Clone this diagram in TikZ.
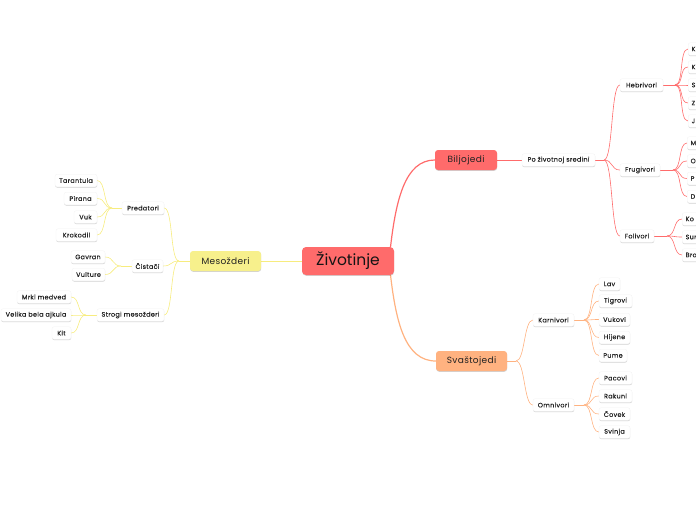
\documentclass[tikz,border=0pt]{standalone}
\usepackage{fontspec}
\setmainfont{Poppins}
\newfontfamily\leaffont[LetterSpace=5,FakeBold=0.3]{Poppins}
\newfontfamily\mainfont[LetterSpace=4]{Poppins}
\usetikzlibrary{shadows,backgrounds}
\definecolor{redc}{HTML}{FF6B6B}
\definecolor{yelc}{HTML}{F7F08C}
\definecolor{yell}{HTML}{F7EC7E}
\definecolor{orac}{HTML}{FFB280}
\definecolor{txt}{HTML}{222222}
\tikzset{
  x=1pt, y=1pt,
  shad/.style={drop shadow={shadow xshift=0.2pt, shadow yshift=-0.8pt, opacity=0.18, fill=black}},
  leaf/.style={shad, draw=black!5, line width=0.3pt, fill=white, rounded corners=2pt, minimum height=12.5pt, inner xsep=3.5pt, inner ysep=0pt, font=\leaffont\fontsize{6.4}{7}\selectfont, text=txt},
  main/.style={shad, rounded corners=3pt, minimum height=20pt, inner sep=0pt, font=\mainfont\fontsize{9}{10}\selectfont, text=txt},
  rootbox/.style={shad, fill=redc, rounded corners=4pt, minimum height=28pt, minimum width=92pt, inner sep=0pt, font=\fontsize{15.5}{17}\selectfont, text=black!92},
  rl/.style={draw=redc, line width=0.6pt},
  yl/.style={draw=yell, line width=0.6pt},
  ol/.style={draw=orac, line width=0.6pt},
  rs/.style={to path={.. controls +(0:9) and +(180:9) .. (\tikztotarget)}},
  ls/.style={to path={.. controls +(180:9) and +(0:9) .. (\tikztotarget)}},
}
\begin{document}
\begin{tikzpicture}
\useasboundingbox (0,0) rectangle (696,-520);
\clip (0,0) rectangle (696,-520);

% ---------- main nodes
\node[rootbox] (root) at (348,-261) {Životinje};
\node[main, fill=yelc, minimum width=71pt] (mes) at (225.5,-261) {Mesožderi};
\node[main, fill=redc, minimum width=62pt] (bil) at (466,-160) {Biljojedi};
\node[main, fill=orac, minimum width=71pt] (sva) at (471.5,-361) {Svaštojedi};

% ---------- Biljojedi branch
\node[leaf, minimum width=73pt] (po) at (558.5,-160) {Po životnoj sredini};
\node[leaf, minimum width=43pt] (heb) at (641.5,-85) {Hebrivori};
\node[leaf, minimum width=40pt] (fru) at (640,-170) {Frugivori};
\node[leaf, minimum width=34pt] (fol) at (637,-236) {Folivori};

\node[leaf, anchor=west] (h1) at (688,-49) {K};
\node[leaf, anchor=west] (h2) at (688,-67) {K};
\node[leaf, anchor=west] (h3) at (688,-85) {S};
\node[leaf, anchor=west] (h4) at (688,-103) {Z};
\node[leaf, anchor=west] (h5) at (688,-121) {J};

\node[leaf, anchor=west] (f1) at (687,-143) {M};
\node[leaf, anchor=west] (f2) at (687,-161) {O};
\node[leaf, anchor=west] (f3) at (687,-178.5) {P};
\node[leaf, anchor=west] (f4) at (687,-196.5) {D};

\node[leaf, anchor=west] (l1) at (682,-219) {Ko};
\node[leaf, anchor=west] (l2) at (682,-237) {Sun};
\node[leaf, anchor=west] (l3) at (682,-255) {Bro};

% ---------- Svaštojedi branch
\node[leaf, minimum width=41pt] (kar) at (553.5,-320) {Karnivori};
\node[leaf, minimum width=41pt] (omn) at (553.5,-405) {Omnivori};

\node[leaf, minimum width=21pt] (k1) at (609.5,-284) {Lav};
\node[leaf, minimum width=33pt] (k2) at (615.5,-301) {Tigrovi};
\node[leaf, minimum width=31pt] (k3) at (614.5,-319.5) {Vukovi};
\node[leaf, minimum width=31pt] (k4) at (614.5,-337.5) {Hijene};
\node[leaf, minimum width=28pt] (k5) at (613,-355.5) {Pume};

\node[leaf, minimum width=33pt] (o1) at (615.5,-378) {Pacovi};
\node[leaf, minimum width=33pt] (o2) at (615.5,-396) {Rakuni};
\node[leaf, minimum width=31pt] (o3) at (614.5,-414) {Čovek};
\node[leaf, minimum width=31pt] (o4) at (614.5,-432) {Svinja};

% ---------- Mesožderi branch
\node[leaf, minimum width=42pt] (pre) at (143,-208) {Predatori};
\node[leaf, minimum width=31pt] (cis) at (147.5,-266) {Čistači};
\node[leaf, minimum width=67pt] (str) at (130.5,-315) {Strogi mesožderi};

\node[leaf, minimum width=42pt] (p1) at (76,-180.5) {Tarantula};
\node[leaf, minimum width=33pt] (p2) at (80.5,-198.5) {Pirana};
\node[leaf, minimum width=23pt] (p3) at (85.5,-217) {Vuk};
\node[leaf, minimum width=41pt] (p4) at (76.5,-235) {Krokodil};

\node[leaf, minimum width=34pt] (c1) at (88,-257) {Gavran};
\node[leaf, minimum width=33pt] (c2) at (88.5,-274.5) {Vulture};

\node[leaf, minimum width=54pt] (s1) at (44,-297) {Mrki medved};
\node[leaf, minimum width=70pt] (s2) at (36,-315) {Velika bela ajkula};
\node[leaf, minimum width=19pt] (s3) at (61.5,-333) {Kit};

% ---------- junctions
\coordinate (jpo) at (604,-160);
\coordinate (jheb) at (675,-85);
\coordinate (jfru) at (673,-170);
\coordinate (jfol) at (667,-236);
\coordinate (jsva) at (516,-361);
\coordinate (jkar) at (584,-320);
\coordinate (jomn) at (584,-405);
\coordinate (jmes) at (179,-261);
\coordinate (jpre) at (112,-208);
\coordinate (jcis) at (121,-266);
\coordinate (jstr) at (86,-315);
\coordinate (rtop) at (390.5,-247);
\coordinate (rbot) at (390.5,-275);

% ---------- connectors
\begin{scope}[on background layer]
\draw[yl, line width=1pt] (mes.east) -- (root.west);
\draw[rl, line width=1.2pt] (rtop) .. controls (396,-200) and (405,-160) .. (bil.west);
\draw[ol, line width=1.2pt] (rbot) .. controls (396,-322) and (405,-361) .. (sva.west);

\draw[rl, line width=0.9pt] (bil.east) -- (po.west);
\draw[rl, line width=1pt] (po.east) -- (jpo);
\draw[rl] (jpo) to[rs] (heb.west);
\draw[rl] (jpo) to[rs] (fru.west);
\draw[rl] (jpo) to[rs] (fol.west);

\draw[rl, line width=1pt] (heb.east) -- (jheb);
\foreach \n in {h1,h2,h3,h4,h5} \draw[rl] (jheb) to[rs] (\n.west);
\draw[rl, line width=1pt] (fru.east) -- (jfru);
\foreach \n in {f1,f2,f3,f4} \draw[rl] (jfru) to[rs] (\n.west);
\draw[rl, line width=1pt] (fol.east) -- (jfol);
\foreach \n in {l1,l2,l3} \draw[rl] (jfol) to[rs] (\n.west);

\draw[ol, line width=1pt] (sva.east) -- (jsva);
\draw[ol] (jsva) to[rs] (kar.west);
\draw[ol] (jsva) to[rs] (omn.west);
\draw[ol, line width=1pt] (kar.east) -- (jkar);
\foreach \n in {k1,k2,k3,k4,k5} \draw[ol] (jkar) to[rs] (\n.west);
\draw[ol, line width=1pt] (omn.east) -- (jomn);
\foreach \n in {o1,o2,o3,o4} \draw[ol] (jomn) to[rs] (\n.west);

\draw[yl, line width=1pt] (mes.west) -- (jmes);
\draw[yl] (jmes) to[ls] (pre.east);
\draw[yl] (jmes) to[ls] (cis.east);
\draw[yl] (jmes) to[ls] (str.east);
\draw[yl, line width=1pt] (pre.west) -- (jpre);
\foreach \n in {p1,p2,p3,p4} \draw[yl] (jpre) to[ls] (\n.east);
\draw[yl, line width=1pt] (cis.west) -- (jcis);
\foreach \n in {c1,c2} \draw[yl] (jcis) to[ls] (\n.east);
\draw[yl, line width=1pt] (str.west) -- (jstr);
\foreach \n in {s1,s2,s3} \draw[yl] (jstr) to[ls] (\n.east);
\end{scope}
\end{tikzpicture}
\end{document}
